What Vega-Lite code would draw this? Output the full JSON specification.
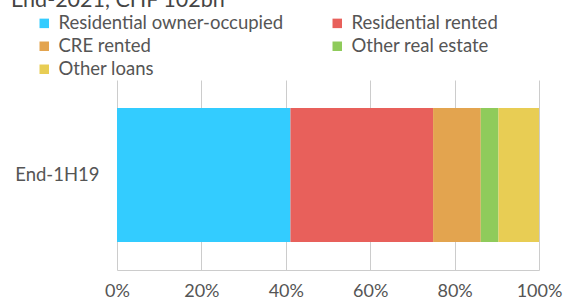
{
  "$schema": "https://vega.github.io/schema/vega-lite/v6.json",
  "width": 422,
  "height": 190,
  "autosize": "none",
  "padding": {"left": 117, "top": 80, "right": 24, "bottom": 31},
  "background": "white",
  "title": {
    "text": "End-2021, CHF 102bn",
    "anchor": "start",
    "frame": "group",
    "orient": "top",
    "offset": 3,
    "dx": -106,
    "font": "Lato",
    "fontSize": 21.5,
    "fontWeight": "normal",
    "color": "#444444"
  },
  "config": {
    "view": {"stroke": null},
    "font": "Lato"
  },
  "data": {
    "values": [
      {"period": "End-1H19", "type": "Residential owner-occupied", "share": 41.1, "ord": 1},
      {"period": "End-1H19", "type": "Residential rented", "share": 33.8, "ord": 2},
      {"period": "End-1H19", "type": "CRE rented", "share": 11.3, "ord": 3},
      {"period": "End-1H19", "type": "Other real estate", "share": 4.2, "ord": 4},
      {"period": "End-1H19", "type": "Other loans", "share": 9.6, "ord": 5}
    ]
  },
  "mark": {"type": "bar", "height": 134},
  "encoding": {
    "y": {
      "field": "period",
      "type": "nominal",
      "axis": {
        "title": null,
        "domain": false,
        "ticks": false,
        "labelPadding": 18,
        "labelFont": "Lato",
        "labelFontSize": 18.5,
        "labelColor": "#555555"
      }
    },
    "x": {
      "field": "share",
      "type": "quantitative",
      "stack": "zero",
      "scale": {"domain": [0, 100], "nice": false},
      "axis": {
        "title": null,
        "values": [0, 20, 40, 60, 80, 100],
        "labelExpr": "datum.value + '%'",
        "ticks": false,
        "domain": true,
        "domainColor": "#cccccc",
        "gridColor": "#cccccc",
        "labelPadding": 12.5,
        "labelFont": "Lato",
        "labelFontSize": 18,
        "labelColor": "#555555",
        "labelFlush": false
      }
    },
    "color": {
      "field": "type",
      "type": "nominal",
      "scale": {
        "domain": ["Residential owner-occupied", "Residential rented", "CRE rented", "Other real estate", "Other loans"],
        "range": ["#33CCFF", "#E8605B", "#E3A44F", "#8FCB5B", "#E8CD54"]
      },
      "legend": {
        "title": null,
        "orient": "none",
        "legendX": -82,
        "legendY": -66,
        "direction": "horizontal",
        "columns": 2,
        "columnPadding": 44,
        "rowPadding": 4,
        "symbolType": "square",
        "symbolSize": 90,
        "symbolStrokeWidth": 0,
        "labelFont": "Lato",
        "labelFontSize": 18.5,
        "labelColor": "#555555",
        "labelOffset": 5,
        "labelLimit": 300
      }
    },
    "order": {"field": "ord", "type": "quantitative"}
  }
}
